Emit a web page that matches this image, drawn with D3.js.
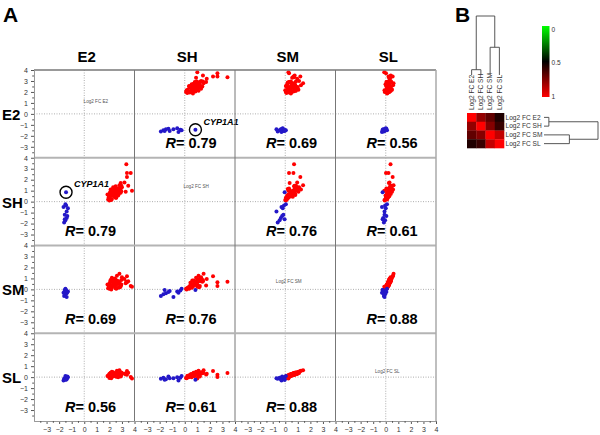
<!DOCTYPE html>
<html><head><meta charset="utf-8">
<script src="https://cdn.jsdelivr.net/npm/d3@7"></script>
<style>
body{margin:0;background:#fff}
svg{display:block}
text{font-family:"Liberation Sans",Arial,Helvetica,sans-serif}
</style>
</head><body>
<svg id="chart" width="600" height="435"></svg>
<script>
// ---------------- DATA ----------------
const variables = ["E2", "SH", "SM", "SL"];
const matrixLabels = ["Log2 FC E2", "Log2 FC SH", "Log2 FC SM", "Log2 FC SL"];
const tickLabels = [-3, -2, -1, 0, 1, 2, 3, 4];
const correlation = [
  [1.00, 0.79, 0.69, 0.56],
  [0.79, 1.00, 0.76, 0.61],
  [0.69, 0.76, 1.00, 0.88],
  [0.56, 0.61, 0.88, 1.00]
];
// genes up-regulated by E2: [E2, SH, SM, SL] log2 fold changes
const upGenes = [
  [3.35, 3.40, 0.70, 0.38], [3.70, 2.60, 0.30, 0.02], [3.40, 2.60, 0.65, 0.22],
  [3.40, 2.25, 1.20, 0.55], [2.80, 1.50, 1.42, 0.62], [3.20, 1.75, 0.95, 0.30],
  [2.90, 1.70, 0.35, 0.25], [3.50, 1.45, 0.75, 0.40], [2.90, 1.20, 0.30, 0.05],
  [3.00, 1.30, 1.10, 0.38], [2.60, 1.10, 1.25, 0.58], [2.20, 0.90, 1.05, 0.50],
  [2.40, 1.00, 0.90, 0.28], [2.10, 0.70, 0.80, 0.40], [2.30, 0.80, 0.70, 0.20],
  [2.50, 0.95, 0.60, 0.32], [2.70, 1.20, 0.75, 0.22], [2.00, 0.50, 0.50, 0.28],
  [2.15, 0.60, 0.40, 0.08], [2.35, 0.75, 0.55, 0.15], [2.55, 0.85, 0.45, 0.26],
  [2.80, 1.00, 0.65, 0.34], [1.95, 0.40, 0.30, 0.20], [2.05, 0.30, 0.20, 0.00],
  [2.25, 0.55, 0.35, 0.06], [2.45, 0.65, 0.25, 0.16], [2.65, 0.90, 0.55, 0.30],
  [2.90, 0.80, 0.40, 0.10], [2.10, 1.10, 0.85, 0.27], [2.30, 1.30, 0.95, 0.45],
  [2.50, 1.40, 0.70, 0.35], [1.90, 0.20, 0.10, 0.10], [2.00, 0.10, 0.05, -0.08],
  [2.20, 0.25, 0.15, 0.12], [2.40, 0.45, 0.60, 0.19], [2.60, 0.60, 0.80, 0.26],
  [2.75, 0.70, 0.50, 0.14], [2.95, 0.95, 0.45, 0.24], [2.05, 0.85, 0.65, 0.33],
  [2.35, 1.05, 0.35, 0.18], [2.85, 1.15, 0.20, 0.13], [2.70, 0.55, 0.15, -0.02],
  [2.50, 0.35, 0.10, 0.07], [2.15, 0.15, 0.00, -0.10], [2.55, 0.35, 0.05, 0.04],
  [1.85, 0.65, 0.45, 0.11], [2.45, 1.20, 1.00, 0.33], [2.95, 1.45, 0.85, 0.42],
  [3.80, 1.00, 0.25, -0.12], [3.30, 0.90, 0.55, 0.27]
];
// genes down-regulated by E2
const downGenes = [
  [-1.60, -1.90, -0.60, -0.15], [-1.50, -1.70, -0.45, -0.05], [-1.40, -1.50, -0.35, -0.20],
  [-1.35, -1.30, -0.25, 0.05], [-1.55, -1.20, -0.15, -0.10], [-1.30, -0.60, -0.20, 0.00],
  [-1.65, -0.50, -0.30, -0.30], [-1.45, -0.35, -0.10, -0.05], [-1.50, -0.25, 0.05, 0.10],
  [-1.40, -0.90, -0.70, -0.10], [-1.55, -1.60, -0.05, -0.25]
];
const highlightName = "CYP1A1";
const highlightValues = [-1.45, 0.85, -0.05, -0.25];
// hierarchical clustering merges (relative heights)
const dendroMerges = [
  {left: ["Log2 FC E2"], right: ["Log2 FC SH"], height: 0.09},
  {left: ["Log2 FC SM"], right: ["Log2 FC SL"], height: 0.47},
  {left: ["Log2 FC E2", "Log2 FC SH"], right: ["Log2 FC SM", "Log2 FC SL"], height: 1.0}
];
const legendTicks = [0, 0.5, 1];

// ---------------- LAYOUT ----------------
const svg = d3.select("#chart");
const L = 34, R = 436, T = 70, B = 421;
const colBand = d3.scaleBand().domain(variables).range([L, R]);
const rowBand = d3.scaleBand().domain(variables).range([T, B]);
const cw = colBand.bandwidth(), rh = rowBand.bandwidth();
const xIn = d3.scaleLinear().domain([-4, 4]).range([0, cw]);
const yIn = d3.scaleLinear().domain([-4, 4]).range([rh, 0]);
const minorTicks = d3.range(-3.5, 4, 1);

// panel letters
svg.append("text").attr("x", 3).attr("y", 22).attr("font-size", 21).attr("font-weight", "bold").text("A");
svg.append("text").attr("x", 455).attr("y", 22).attr("font-size", 21).attr("font-weight", "bold").text("B");

// column headers and row labels
svg.selectAll(".colhead").data(variables).join("text")
  .attr("x", d => colBand(d) + xIn(0.2)).attr("y", 62)
  .attr("text-anchor", "middle").attr("font-size", 15).attr("font-weight", "bold").text(d => d);
svg.selectAll(".rowhead").data(variables).join("text")
  .attr("x", 2).attr("y", d => rowBand(d) + yIn(0) + 6)
  .attr("font-size", 15).attr("font-weight", "bold").text(d => d);

// cells
const diagOffset = [[-0.05, 1.0], [-0.1, 1.2], [-0.75, 0.55], [-0.85, 0.35]];
variables.forEach((rv, i) => {
  variables.forEach((cv, j) => {
    const g = svg.append("g").attr("transform", `translate(${colBand(cv)},${rowBand(rv)})`);
    g.append("line").attr("x1", 0).attr("x2", cw).attr("y1", yIn(0)).attr("y2", yIn(0))
      .attr("stroke", "#999").attr("stroke-width", 0.8).attr("stroke-dasharray", "1,1.5");
    g.append("line").attr("x1", xIn(0)).attr("x2", xIn(0)).attr("y1", 0).attr("y2", rh)
      .attr("stroke", "#999").attr("stroke-width", 0.8).attr("stroke-dasharray", "1,1.5");
    if (i === j) {
      g.append("text").attr("x", xIn(diagOffset[i][0])).attr("y", yIn(diagOffset[i][1]))
        .attr("font-size", 4.6).attr("fill", "#555").text(matrixLabels[i]);
      return;
    }
    g.selectAll(".up").data(upGenes).join("circle")
      .attr("cx", d => xIn(d[j])).attr("cy", d => yIn(d[i])).attr("r", 2).attr("fill", "#ff0000");
    g.selectAll(".dn").data(downGenes.concat([highlightValues])).join("circle")
      .attr("cx", d => xIn(d[j])).attr("cy", d => yIn(d[i])).attr("r", 2).attr("fill", "#2418c8");
    if ((i === 0 && j === 1) || (i === 1 && j === 0)) {
      const hx = xIn(highlightValues[j]), hy = yIn(highlightValues[i]);
      g.append("circle").attr("cx", hx).attr("cy", hy).attr("r", 6)
        .attr("fill", "none").attr("stroke", "#000").attr("stroke-width", 1.4);
      g.append("text").attr("x", hx + 8).attr("y", hy - 5).attr("font-size", 9)
        .attr("font-weight", "bold").attr("font-style", "italic").text(highlightName);
    }
    const t = g.append("text").attr("x", xIn(0.5)).attr("y", rh - 9.5)
      .attr("text-anchor", "middle").attr("font-size", 14.5).attr("font-weight", "bold");
    t.append("tspan").attr("font-style", "italic").text("R");
    t.append("tspan").text("= " + d3.format(".2f")(correlation[i][j]));
  });
});

// separators
variables.slice(1).forEach(v => {
  svg.append("line").attr("x1", L).attr("x2", R).attr("y1", rowBand(v)).attr("y2", rowBand(v))
    .attr("stroke", "#b4b4b4").attr("stroke-width", 1.8);
  svg.append("line").attr("x1", colBand(v)).attr("x2", colBand(v)).attr("y1", T).attr("y2", B)
    .attr("stroke", "#777").attr("stroke-width", 1);
});
svg.append("line").attr("x1", L).attr("x2", R).attr("y1", T).attr("y2", T).attr("stroke", "#777").attr("stroke-width", 1.3);
svg.append("line").attr("x1", R).attr("x2", R).attr("y1", T).attr("y2", B).attr("stroke", "#aaa").attr("stroke-width", 1.5);

// axes
function styleAxis(sel) {
  sel.selectAll("path.domain").attr("stroke", "#999");
  sel.selectAll("line").attr("stroke", "#555");
  sel.selectAll("text").attr("font-size", 7).attr("fill", "#333").attr("font-family", "'Liberation Sans',Arial,sans-serif");
}
variables.forEach(v => {
  const ya = svg.append("g").attr("transform", `translate(${L},${rowBand(v)})`)
    .call(d3.axisLeft(yIn).tickValues(tickLabels).tickSize(3).tickSizeOuter(0).tickFormat(d3.format("d")));
  styleAxis(ya);
  const ym = svg.append("g").attr("transform", `translate(${L},${rowBand(v)})`)
    .call(d3.axisLeft(yIn).tickValues(minorTicks).tickSize(1.8).tickSizeOuter(0).tickFormat(""));
  styleAxis(ym);
  const xa = svg.append("g").attr("transform", `translate(${colBand(v)},${B})`)
    .call(d3.axisBottom(xIn).tickValues(tickLabels).tickSize(3).tickSizeOuter(0).tickFormat(d3.format("d")));
  styleAxis(xa);
  const xm = svg.append("g").attr("transform", `translate(${colBand(v)},${B})`)
    .call(d3.axisBottom(xIn).tickValues(minorTicks).tickSize(1.8).tickSizeOuter(0).tickFormat(""));
  styleAxis(xm);
});

// ---------------- PANEL B ----------------
const hx = d3.scaleBand().domain(matrixLabels).range([467, 504]);
const hy = d3.scaleBand().domain(matrixLabels).range([113, 148]);
const heatColor = d3.scaleLinear().domain([0, 0.5, 1]).range(["#00ff00", "#000000", "#ff0000"]);
const cells = [];
matrixLabels.forEach((r, i) => matrixLabels.forEach((c, j) => cells.push({r, c, v: correlation[i][j]})));
svg.append("g").selectAll("rect").data(cells).join("rect")
  .attr("x", d => hx(d.c)).attr("y", d => hy(d.r))
  .attr("width", hx.bandwidth() + 0.3).attr("height", hy.bandwidth() + 0.3)
  .attr("fill", d => heatColor(d.v));
svg.append("g").selectAll("text").data(matrixLabels).join("text")
  .attr("transform", d => `translate(${hx(d) + hx.bandwidth() / 2},110) rotate(-90)`)
  .attr("dy", "0.35em").attr("text-anchor", "start").attr("font-size", 6.6).attr("fill", "#333").text(d => d);
svg.append("g").selectAll("text").data(matrixLabels).join("text")
  .attr("x", 505.5).attr("y", d => hy(d) + hy.bandwidth() / 2).attr("dy", "0.35em")
  .attr("font-size", 6.6).attr("fill", "#333").text(d => d);

// dendrograms
const topH = d3.scaleLinear().domain([0, 1]).range([75, 16]);
const rightH = d3.scaleLinear().domain([0, 1]).range([544, 598]);
const posOf = (members, sc) => d3.mean(members, m => sc(m) + sc.bandwidth() / 2);
const heightOf = members => {
  if (members.length === 1) return 0;
  const m = dendroMerges.find(d => d.left.concat(d.right).length === members.length && members.every(x => d.left.concat(d.right).includes(x)));
  return m ? m.height : 0;
};
dendroMerges.forEach(m => {
  const aX = posOf(m.left, hx), bX = posOf(m.right, hx);
  const aH = heightOf(m.left), bH = heightOf(m.right);
  svg.append("path").attr("fill", "none").attr("stroke", "#444").attr("stroke-width", 0.9)
    .attr("d", `M${aX},${topH(aH)}V${topH(m.height)}H${bX}V${topH(bH)}`);
  const aY = posOf(m.left, hy), bY = posOf(m.right, hy);
  svg.append("path").attr("fill", "none").attr("stroke", "#444").attr("stroke-width", 0.9)
    .attr("d", `M${rightH(aH)},${aY}H${rightH(m.height)}V${bY}H${rightH(bH)}`);
});

// colour legend
const defs = svg.append("defs");
const grad = defs.append("linearGradient").attr("id", "lg").attr("x1", 0).attr("x2", 0).attr("y1", 0).attr("y2", 1);
legendTicks.forEach(t => grad.append("stop").attr("offset", t).attr("stop-color", heatColor(t)));
const legY = d3.scaleLinear().domain([0, 1]).range([29.5, 96.5]);
svg.append("rect").attr("x", 542).attr("y", 26).attr("width", 7.5).attr("height", 71).attr("fill", "url(#lg)");
svg.append("g").selectAll("text").data(legendTicks).join("text")
  .attr("x", 551.5).attr("y", d => legY(d)).attr("dy", "0.35em")
  .attr("font-size", 6.6).attr("fill", "#333").text(d => d);
</script>
</body></html>
